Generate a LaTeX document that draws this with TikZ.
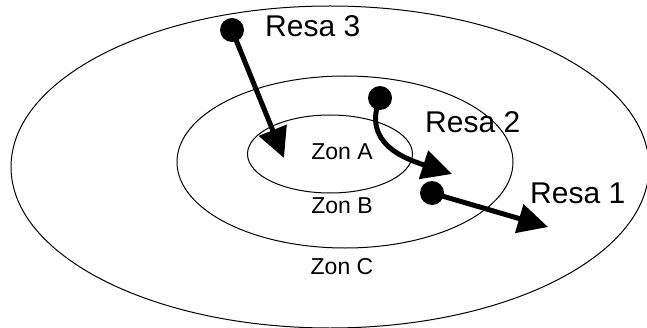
\documentclass[tikz,border=0pt]{standalone}
\usepackage{fontspec}
\setmainfont{Liberation Sans}
\usetikzlibrary{arrows.meta}
\tikzset{
	dot/.style={circle, fill=black, inner sep=0pt, minimum size=24pt},
	resa/.style={line width=5pt, -{Triangle[length=30pt,width=29pt]}},
	zon/.style={font=\fontsize{23}{23}\selectfont, inner sep=0pt},
	lbl/.style={font=\fontsize{30}{30}\selectfont, inner sep=0pt, anchor=west}
}

\begin{document}
\begin{tikzpicture}[x=1pt, y=1pt]
		\useasboundingbox (0,0) rectangle (647,327);
		\clip (0,0) rectangle (647,327);
		
		% zones
		\draw[line width=1pt] (330,160) ellipse [x radius=319pt, y radius=161pt];
		\draw[line width=1pt] (345,165) ellipse [x radius=168pt, y radius=86pt];
		\draw[line width=1pt] (330,173) ellipse [x radius=82.5pt, y radius=39pt];
		
		\node[zon] (za) at (342,175) {Zon A};
		\node[zon] (zb) at (342,121) {Zon B};
		\node[zon] (zc) at (342,60) {Zon C};
		
		% resor
		\node[dot] (d3) at (232,297) {}; \coordinate (t3) at (284,169);
		\node[dot] (d2) at (380,229) {}; \coordinate (t2) at (452,153);
		\node[dot] (d1) at (432,134) {}; \coordinate (t1) at (548,100);
		
		\draw[resa] (d3.center) -- (t3);
		\draw[resa] (d2.center) to[out=-112, in=162, looseness=1.2] (t2);
		\draw[resa] (d1.center) -- (t1);
		
		\node[lbl] (r3) at (265,301) {Resa 3};
		\node[lbl] (r2) at (425,204.5) {Resa 2};
		\node[lbl] (r1) at (530,133.5) {Resa 1};
	\end{tikzpicture}
\end{document}
